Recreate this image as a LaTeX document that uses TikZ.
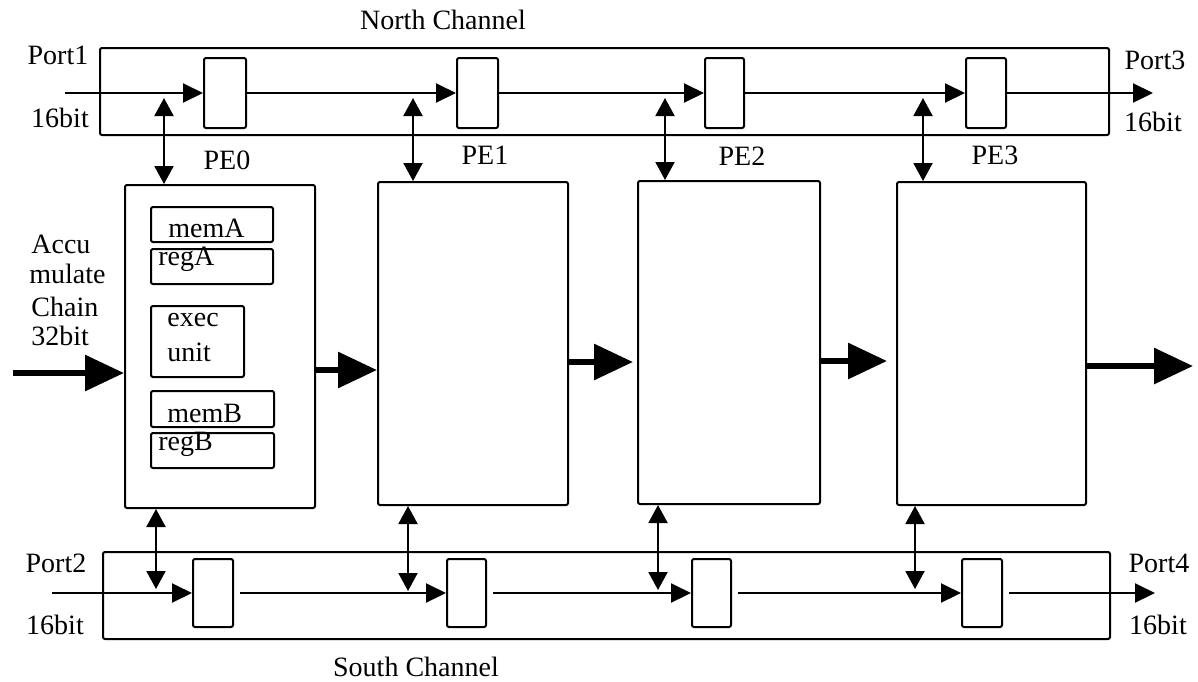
\documentclass[tikz,border=0pt]{standalone}
\usepackage{fontspec}
\setmainfont{Liberation Serif}
\usetikzlibrary{arrows.meta,fit}
\begin{document}
\begin{tikzpicture}[x=0.5pt,y=-0.5pt,
 box/.style={draw,line width=1pt,inner sep=0pt,rounded corners=1pt},
 lbl/.style={inner sep=0pt,font=\fontsize{14}{15.5}\selectfont},
 bus/.style={line width=1pt,-{Triangle[length=10pt,width=9.5pt]}},
 dbl/.style={line width=1pt,{Triangle[length=9pt,width=9.5pt]}-{Triangle[length=9pt,width=9.5pt]}},
 thk/.style={line width=3pt,-{Triangle[length=19.5pt,width=17.5pt]}}]
\useasboundingbox (0,0) rectangle (1198,681);
% channels
\node[box,fit={(100,48)(1109,135)}] (nch) {};
\node[box,fit={(103,552)(1110,639)}] (sch) {};
% north registers
\node[box,fit={(204,58)(246,128)}] (nr0) {};
\node[box,fit={(457,58)(498,128)}] (nr1) {};
\node[box,fit={(705,58)(744,128)}] (nr2) {};
\node[box,fit={(966,58)(1006,128)}] (nr3) {};
% south registers
\node[box,fit={(193,559)(233,627)}] (sr0) {};
\node[box,fit={(447,559)(486,627)}] (sr1) {};
\node[box,fit={(692,559)(731,627)}] (sr2) {};
\node[box,fit={(962,559)(1002,627)}] (sr3) {};
% PEs
\node[box,fit={(125,185)(315,508)}] (pe0) {};
\node[box,fit={(378,182)(568,505)}] (pe1) {};
\node[box,fit={(638,181)(820,504)}] (pe2) {};
\node[box,fit={(897,182)(1086,505)}] (pe3) {};
% inner boxes of PE0
\node[box,fit={(151,207)(273,242)}] (ma) {};
\node[box,fit={(151,249)(273,284)}] (ra) {};
\node[box,fit={(151,306)(244,377)}] (ex) {};
\node[box,fit={(151,391)(274,427)}] (mb) {};
\node[box,fit={(151,433)(274,468)}] (rb) {};
\node[lbl,anchor=west] (tma) at (168,228) {memA};
\node[lbl,anchor=west] (tra) at (158,259) {regA};
\node[lbl,anchor=west] (tex) at (167,320) {exec};
\node[lbl,anchor=west] (tun) at (167,352) {unit};
\node[lbl,anchor=west] (tmb) at (167,413) {memB};
\node[lbl,anchor=west] (trb) at (158,444) {regB};
% labels
\node[lbl] (tnc) at (443,20) {North Channel};
\node[lbl] (tsc) at (416,667) {South Channel};
\node[lbl] (p1) at (58,55) {Port1};
\node[lbl] (b1) at (60,118) {16bit};
\node[lbl] (p2) at (56,563) {Port2};
\node[lbl] (b2) at (55,625) {16bit};
\node[lbl] (p3) at (1155,60) {Port3};
\node[lbl] (b3) at (1153,122) {16bit};
\node[lbl] (p4) at (1159,563) {Port4};
\node[lbl] (b4) at (1158,625) {16bit};
\node[lbl] (l0) at (227,160) {PE0};
\node[lbl] (l1) at (485,155) {PE1};
\node[lbl] (l2) at (742,156) {PE2};
\node[lbl] (l3) at (995,155) {PE3};
\node[lbl,anchor=west] (ac1) at (31,244) {Accu};
\node[lbl,anchor=west] (ac2) at (29,274) {mulate};
\node[lbl,anchor=west] (ac3) at (31,307) {Chain};
\node[lbl,anchor=west] (ac4) at (31,336) {32bit};
% north bus
\coordinate (nin) at (65,93);
\coordinate (nout) at (1153,93);
\draw[bus] (nin) -- (nr0.west);
\draw[bus] (nr0.east) -- (nr1.west);
\draw[bus] (nr1.east) -- (nr2.west);
\draw[bus] (nr2.east) -- (nr3.west);
\draw[bus] (nr3.east) -- (nout);
% south bus
\coordinate (sin) at (52,593);
\coordinate (sout) at (1155,593);
\draw[bus] (sin) -- (sr0.west);
\draw[bus,shorten <=3pt] (sr0.east) -- (sr1.west);
\draw[bus,shorten <=3pt] (sr1.east) -- (sr2.west);
\draw[bus,shorten <=3pt] (sr2.east) -- (sr3.west);
\draw[bus,shorten <=3pt] (sr3.east) -- (sout);
% vertical links
\coordinate (nj0) at (164,98);
\coordinate (nj1) at (413,98);
\coordinate (nj2) at (665,98);
\coordinate (nj3) at (923,98);
\draw[dbl] (nj0) -- (nj0 |- pe0.north);
\draw[dbl] (nj1) -- (nj1 |- pe1.north);
\draw[dbl] (nj2) -- (nj2 |- pe2.north);
\draw[dbl] (nj3) -- (nj3 |- pe3.north);
\coordinate (sj0) at (156,589);
\coordinate (sj1) at (408,591);
\coordinate (sj2) at (658,590);
\coordinate (sj3) at (915,589);
\draw[dbl] (sj0 |- pe0.south) -- (sj0);
\draw[dbl] (sj1 |- pe1.south) -- (sj1);
\draw[dbl] (sj2 |- pe2.south) -- (sj2);
\draw[dbl] (sj3 |- pe3.south) -- (sj3);
% accumulate chain
\coordinate (ain) at (13,373);
\coordinate (a1) at (0,370);
\coordinate (a2) at (633,362);
\coordinate (a3) at (887,361);
\coordinate (aout) at (1193,366);
\draw[thk] (ain) -- (ain -| pe0.west);
\draw[thk] (pe0.east |- a1) -- (pe1.west |- a1);
\draw[thk] (pe1.east |- a2) -- (a2);
\draw[thk] (pe2.east |- a3) -- (a3);
\draw[thk] (pe3.east |- aout) -- (aout);
\end{tikzpicture}
\end{document}
